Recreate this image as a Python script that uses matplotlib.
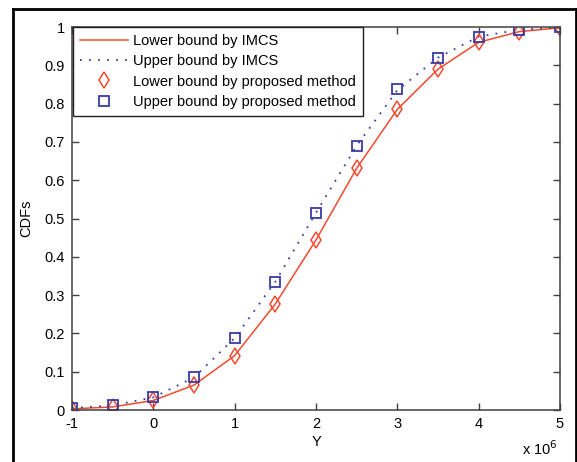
import numpy as np
import matplotlib.pyplot as plt
from matplotlib.lines import Line2D

plt.rcParams['font.family'] = ['Liberation Sans', 'DejaVu Sans']

# data (x in units of 1e6)
y_vals = [-1, -0.5, 0, 0.5, 1, 1.5, 2, 2.5, 3, 3.5, 4, 4.5, 5]
lower_imcs = [0.003, 0.008, 0.025, 0.065, 0.142, 0.277, 0.444, 0.631, 0.785, 0.890, 0.960, 0.988, 0.998]
upper_imcs = [0.005, 0.012, 0.033, 0.085, 0.188, 0.335, 0.515, 0.690, 0.835, 0.920, 0.975, 0.993, 0.999]
lower_prop = [0.003, 0.008, 0.025, 0.065, 0.142, 0.276, 0.444, 0.631, 0.785, 0.890, 0.960, 0.988, 0.998]
upper_prop = [0.005, 0.012, 0.033, 0.085, 0.188, 0.335, 0.515, 0.690, 0.838, 0.920, 0.975, 0.993, 0.999]

xticks = [-1, 0, 1, 2, 3, 4, 5]
yticks = np.round(np.arange(0, 1.01, 0.1), 1)
ytick_labels = ['0'] + ['%.1f' % v for v in yticks[1:-1]] + ['1']

red = '#f24a2e'
blue = '#3a3aa6'

fig = plt.figure(figsize=(5.77, 4.62), dpi=100)
ax = fig.add_axes([72 / 577, 52 / 462, 488 / 577, 383 / 462])

ax.plot(y_vals, lower_imcs, color=red, lw=1.1, label='Lower bound by IMCS')
ax.plot(y_vals, upper_imcs, color=blue, lw=1.3, ls=(0, (1, 4)), label='Upper bound by IMCS')
ax.plot(y_vals, lower_prop, ls='none', marker='d', ms=8, mfc='none', mec=red, mew=1.1,
        label='Lower bound by proposed method')
ax.plot(y_vals, upper_prop, ls='none', marker='s', ms=7, mfc='none', mec=blue, mew=1.3,
        label='Upper bound by proposed method')

ax.set_xlim(-1, 5)
ax.set_ylim(0, 1)
ax.set_xticks(xticks)
ax.set_xticklabels([str(t) for t in xticks])
ax.set_yticks(yticks)
ax.set_yticklabels(ytick_labels)
ax.tick_params(direction='in', length=5, top=True, right=True, labelsize=10.5,
               color='#404040', width=1, pad=5)
for s in ax.spines.values():
    s.set_color('#404040')
    s.set_linewidth(1.1)

ax.set_xlabel('Y', fontsize=10.5, labelpad=3)
ax.set_ylabel('CDFs', fontsize=10.5, labelpad=8)
fig.text(540 / 577, 1 - 449 / 462, 'x 10$^{6}$', fontsize=10.5, ha='center', va='center')

leg = ax.legend(loc='upper left', bbox_to_anchor=(0.002, 1.0), borderaxespad=0,
                fontsize=10.5, fancybox=False, framealpha=1, edgecolor='#202020',
                handlelength=3.3, handletextpad=0.3, labelspacing=0.42,
                borderpad=0.5, numpoints=1)
leg.get_frame().set_linewidth(1.0)

# outer figure border
lw = 2.0
fig.add_artist(Line2D([13 / 577, 13 / 577], [0, 1 - 9 / 462], transform=fig.transFigure, color='black', lw=lw))
fig.add_artist(Line2D([13 / 577, 576 / 577], [1 - 9 / 462, 1 - 9 / 462], transform=fig.transFigure, color='black', lw=lw))
fig.add_artist(Line2D([576 / 577, 576 / 577], [0, 1 - 9 / 462], transform=fig.transFigure, color='black', lw=lw))

fig.savefig('out.png', dpi=100)
